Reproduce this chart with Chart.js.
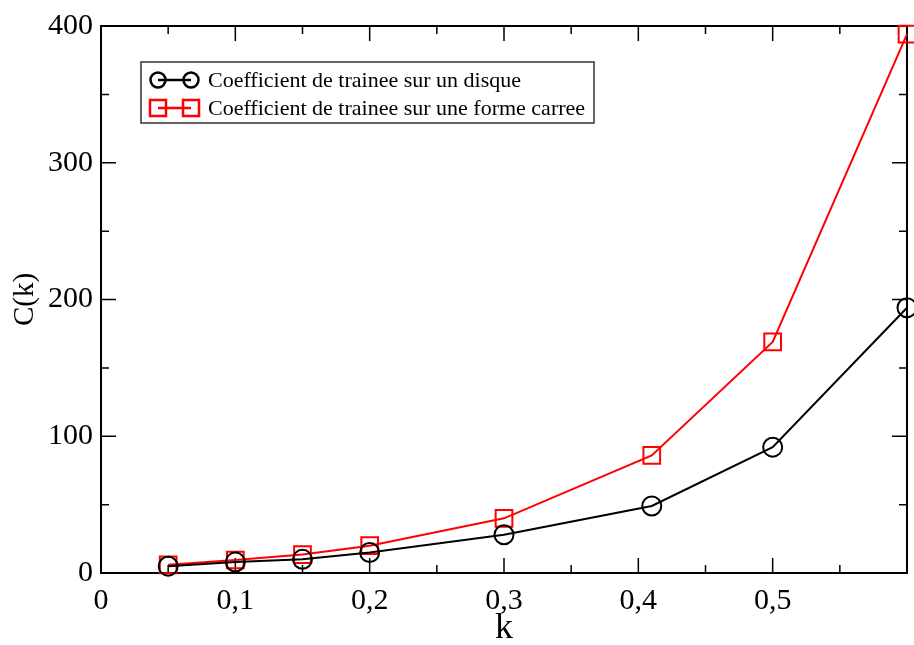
<!DOCTYPE html>
<html>
<head>
<meta charset="utf-8">
<script src="https://cdn.jsdelivr.net/npm/chart.js@4"></script>
<style>
  html, body { margin: 0; padding: 0; background: #fff; }
</style>
</head>
<body>
<canvas id="myChart" width="914" height="645"></canvas>
<script>
// values
const kValues = [0.05, 0.1, 0.15, 0.2, 0.3, 0.41, 0.5, 0.6];
const disque = [5, 8, 10, 15, 28, 49, 92, 194];
const carree = [6, 9.5, 13.5, 20, 40, 86, 169, 394];
const seriesLabels = ['Coefficient de trainee sur un disque', 'Coefficient de trainee sur une forme carree'];
const xTicks = [0, 0.1, 0.2, 0.3, 0.4, 0.5, 0.6];
const yTicks = [0, 100, 200, 300, 400];

const serif = "'Liberation Serif', 'DejaVu Serif', serif";

const toPoints = (ys) => kValues.map((k, i) => ({ x: k, y: ys[i] }));

const fmtK = (v) => {
  if (Math.abs(v - 0.6) < 1e-9) return '';   // 0,6 is off the edge in the original
  if (v === 0) return '0';
  return v.toFixed(1).replace('.', ',');
};

// frame + inward ticks on all four sides (grace style)
const framePlugin = {
  id: 'frame',
  beforeDatasetsDraw(chart) {
    const { ctx, chartArea: a, scales } = chart;
    const xs = scales.x, ys = scales.y;
    ctx.save();
    ctx.strokeStyle = '#000';
    ctx.lineWidth = 1.5;
    ctx.beginPath();
    const tick = (x1, y1, x2, y2) => { ctx.moveTo(x1, y1); ctx.lineTo(x2, y2); };
    xTicks.forEach((v, i) => {
      const px = xs.getPixelForValue(v);
      tick(px, a.bottom, px, a.bottom - 15);
      tick(px, a.top, px, a.top + 15);
      if (i < xTicks.length - 1) {
        const m = xs.getPixelForValue((v + xTicks[i + 1]) / 2);
        tick(m, a.bottom, m, a.bottom - 8);
        tick(m, a.top, m, a.top + 8);
      }
    });
    yTicks.forEach((v, i) => {
      const py = ys.getPixelForValue(v);
      tick(a.left, py, a.left + 15, py);
      tick(a.right, py, a.right - 15, py);
      if (i < yTicks.length - 1) {
        const m = ys.getPixelForValue((v + yTicks[i + 1]) / 2);
        tick(a.left, m, a.left + 8, m);
        tick(a.right, m, a.right - 8, m);
      }
    });
    ctx.stroke();
    ctx.lineWidth = 2;
    ctx.strokeRect(a.left, a.top, a.right - a.left, a.bottom - a.top);
    ctx.restore();
  }
};

// boxed legend with the two-symbol sample used by xmgrace
const legendPlugin = {
  id: 'graceLegend',
  afterDraw(chart) {
    const { ctx } = chart;
    const box = { x: 141, y: 62, w: 453, h: 61 };
    ctx.save();
    ctx.fillStyle = '#fff';
    ctx.fillRect(box.x, box.y, box.w, box.h);
    ctx.strokeStyle = '#333';
    ctx.lineWidth = 1.5;
    ctx.strokeRect(box.x, box.y, box.w, box.h);
    const rows = [80, 108];
    chart.data.datasets.forEach((ds, i) => {
      const y = rows[i];
      ctx.strokeStyle = ds.borderColor;
      ctx.lineWidth = 2.5;
      ctx.beginPath();
      ctx.moveTo(158, y); ctx.lineTo(191, y);
      ctx.stroke();
      [158, 191].forEach((cx) => {
        ctx.beginPath();
        if (ds.pointStyle === 'rect') ctx.rect(cx - 8, y - 8, 16, 16);
        else ctx.arc(cx, y, 7.5, 0, Math.PI * 2);
        ctx.stroke();
      });
      ctx.fillStyle = '#000';
      ctx.font = '22px ' + serif;
      ctx.textBaseline = 'middle';
      ctx.fillText(ds.label, 208, y + 1);
    });
    ctx.restore();
  }
};

new Chart(document.getElementById('myChart'), {
  type: 'scatter',
  data: {
    datasets: [
      {
        label: seriesLabels[0],
        data: toPoints(disque),
        showLine: true,
        borderColor: '#000',
        borderWidth: 2,
        pointStyle: 'circle',
        pointRadius: 9.5,
        pointBorderWidth: 2,
        pointBackgroundColor: 'rgba(0,0,0,0)',
        pointBorderColor: '#000',
        clip: false
      },
      {
        label: seriesLabels[1],
        data: toPoints(carree),
        showLine: true,
        borderColor: '#ff0000',
        borderWidth: 2,
        pointStyle: 'rect',
        pointRadius: 11.8,
        pointBorderWidth: 2,
        pointBackgroundColor: 'rgba(0,0,0,0)',
        pointBorderColor: '#ff0000',
        clip: false
      }
    ]
  },
  options: {
    responsive: false,
    animation: false,
    layout: { autoPadding: false, padding: { top: 23, right: 7, left: 0, bottom: 0 } },
    plugins: {
      legend: { display: false },
      tooltip: { enabled: false }
    },
    scales: {
      x: {
        type: 'linear',
        min: 0,
        max: 0.6,
        afterBuildTicks: (s) => { s.ticks = xTicks.map((v) => ({ value: v })); },
        afterFit: (s) => { s.height = 72; s.paddingLeft = 0; s.paddingRight = 0; },
        grid: { display: false, drawTicks: false },
        border: { display: false },
        ticks: {
          color: '#000',
          font: { family: serif, size: 30 },
          padding: 10,
          maxRotation: 0,
          autoSkip: false,
          callback: (v) => fmtK(v)
        },
        title: {
          display: true,
          text: 'k',
          color: '#000',
          font: { family: serif, size: 36, lineHeight: 1 },
          padding: { top: 0, bottom: -2 }
        }
      },
      y: {
        type: 'linear',
        min: 0,
        max: 400,
        afterBuildTicks: (s) => { s.ticks = yTicks.map((v) => ({ value: v })); },
        afterFit: (s) => { s.width = 101; },
        grid: { display: false, drawTicks: false },
        border: { display: false },
        ticks: {
          color: '#000',
          font: { family: serif, size: 30 },
          padding: 8,
          callback: (v) => String(v)
        },
        title: {
          display: true,
          text: 'C(k)',
          color: '#000',
          font: { family: serif, size: 29, lineHeight: 1 },
          padding: { top: 11, bottom: 0 }
        }
      }
    }
  },
  plugins: [framePlugin, legendPlugin]
});
</script>
</body>
</html>
